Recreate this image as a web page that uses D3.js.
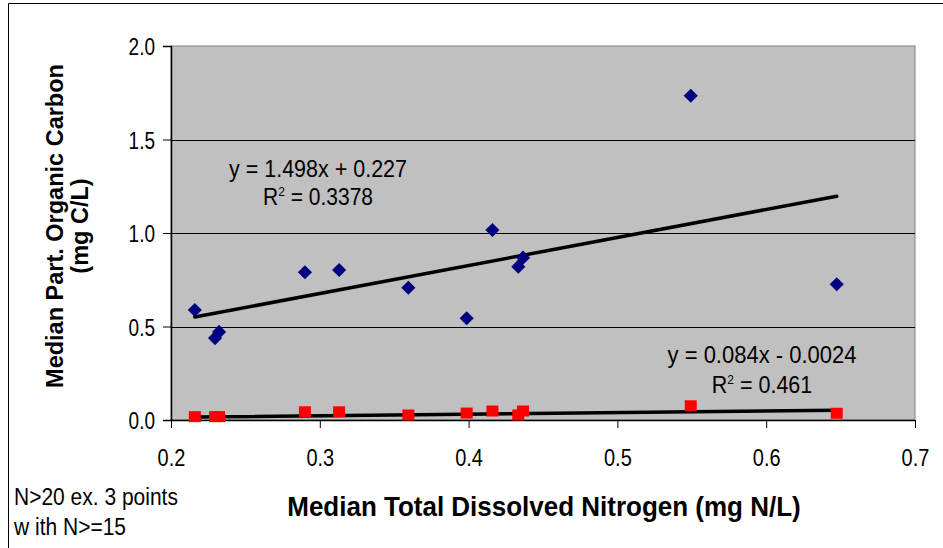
<!DOCTYPE html>
<html>
<head>
<meta charset="utf-8">
<script src="https://cdnjs.cloudflare.com/ajax/libs/d3/7.8.5/d3.min.js"></script>
<style>
  body { margin: 0; background: #fff; }
  svg { display: block; }
  text { font-family: "Liberation Sans", Arial, sans-serif; fill: #000; }
</style>
</head>
<body>
<div id="chart"></div>
<script>
"use strict";

// Median total dissolved nitrogen (mg N/L), one per site
var tdn = [0.216, 0.2296, 0.2323, 0.290, 0.313, 0.3595, 0.3987, 0.416, 0.4334, 0.4366, 0.5493, 0.6474];
// Median particulate organic carbon (mg C/L)
var poc = [0.588, 0.438, 0.471, 0.790, 0.802, 0.707, 0.544, 1.016, 0.820, 0.868, 1.734, 0.726];
// Second series (red squares)
var pon = [0.018, 0.018, 0.018, 0.044, 0.044, 0.027, 0.037, 0.048, 0.027, 0.048, 0.076, 0.036];

var xTicks = [0.2, 0.3, 0.4, 0.5, 0.6, 0.7];
var yTicks = [0.0, 0.5, 1.0, 1.5, 2.0];

// trendline coefficients shown on the chart
var fitPoc = {slope: 1.498, icept: 0.227, label: "y = 1.498x + 0.227", r2: "0.3378"};
var fitPon = {slope: 0.084, icept: -0.0024, label: "y = 0.084x - 0.0024", r2: "0.461"};

var width = 943, height = 548,
    margin = {top: 46, right: 28, bottom: 128, left: 171},
    w = width - margin.left - margin.right,
    h = height - margin.top - margin.bottom;

var svg = d3.select("#chart").append("svg")
    .attr("width", width)
    .attr("height", height);

// text in the original is a bit taller than it is wide, so stretch it
function label(parent, x, y, size, sy, anchor, str) {
    return parent.append("text")
        .attr("transform", "translate(" + x + "," + y + ") scale(1," + sy + ")")
        .attr("text-anchor", anchor)
        .attr("font-size", size)
        .text(str);
}

// outer chart border (clipped at right and bottom)
svg.append("path")
    .attr("d", "M8.5," + height + "V3.5H" + width)
    .attr("fill", "none")
    .attr("stroke", "#000")
    .attr("stroke-width", 1);

var x = d3.scaleLinear().domain([0.2, 0.7]).range([0, w]);
var y = d3.scaleLinear().domain([0, 2]).range([h, 0]);

var g = svg.append("g")
    .attr("transform", "translate(" + margin.left + "," + margin.top + ")");

// plot area
g.append("rect")
    .attr("width", w)
    .attr("height", h)
    .attr("fill", "#c0c0c0")
    .attr("stroke", "#808080")
    .attr("stroke-width", 1);

// gridlines
g.selectAll(".grid")
    .data(yTicks.filter(function (d) { return d > 0 && d < 2; }))
    .enter().append("line")
    .attr("class", "grid")
    .attr("x1", 0).attr("x2", w)
    .attr("y1", function (d) { return Math.round(y(d)) + 0.5; })
    .attr("y2", function (d) { return Math.round(y(d)) + 0.5; })
    .attr("stroke", "#000")
    .attr("stroke-width", 1);

// axes
var xAxis = d3.axisBottom(x).tickValues(xTicks).tickSize(8)
    .tickFormat(d3.format(".1f"));
var yAxis = d3.axisLeft(y).tickValues(yTicks).tickSize(8)
    .tickFormat(d3.format(".1f"));

var gx = g.append("g")
    .attr("transform", "translate(0," + h + ")")
    .call(xAxis);
var gy = g.append("g").call(yAxis);

[gx, gy].forEach(function (ax) {
    ax.select(".domain").attr("stroke", "#000").attr("stroke-width", 1.5);
    ax.selectAll(".tick line").attr("stroke", "#000");
    ax.selectAll(".tick text")
        .attr("font-family", "Liberation Sans, Arial, sans-serif")
        .attr("fill", "#000")
        .attr("x", null).attr("y", null).attr("dy", null);
});
gx.select(".domain").attr("d", "M0,0.5H" + w);
gx.selectAll(".tick text").attr("font-size", 20)
    .attr("transform", "translate(0,46) scale(1,1.22)");
gy.selectAll(".tick text").attr("font-size", 19)
    .attr("transform", "translate(-16,8.5) scale(1,1.25)");

// trendlines
function trend(fit, xs) {
    var lo = d3.min(xs), hi = d3.max(xs);
    return [[lo, fit.slope * lo + fit.icept], [hi, fit.slope * hi + fit.icept]];
}
var line = d3.line()
    .x(function (d) { return x(d[0]); })
    .y(function (d) { return y(d[1]); });

[fitPoc, fitPon].forEach(function (fit) {
    g.append("path")
        .attr("d", line(trend(fit, tdn)))
        .attr("fill", "none")
        .attr("stroke", "#000")
        .attr("stroke-width", 3.5)
        .attr("stroke-linecap", "round");
});

// points
var pocPts = tdn.map(function (d, i) { return [d, poc[i]]; });
var ponPts = tdn.map(function (d, i) { return [d, pon[i]]; });

g.selectAll(".sq")
    .data(ponPts)
    .enter().append("rect")
    .attr("class", "sq")
    .attr("x", function (d) { return x(d[0]) - 6; })
    .attr("y", function (d) { return y(d[1]) - 5.5; })
    .attr("width", 12)
    .attr("height", 11)
    .attr("fill", "#ff0000");

g.selectAll(".dia")
    .data(pocPts)
    .enter().append("path")
    .attr("class", "dia")
    .attr("d", d3.symbol(d3.symbolSquare, 100))
    .attr("transform", function (d) {
        return "translate(" + x(d[0]) + "," + y(d[1]) + ") rotate(45)";
    })
    .attr("fill", "#000080");

// trendline labels
function fitLabel(fit, cx, y1, y2, size) {
    label(svg, cx, y1, size, 1.12, "middle", fit.label);
    var t = label(svg, cx, y2, size - 0.5, 1.12, "middle", "");
    t.append("tspan").text("R");
    t.append("tspan").attr("font-size", 12).attr("dy", -8).text("2");
    t.append("tspan").attr("dy", 8).text(" = " + fit.r2);
}
fitLabel(fitPoc, 318, 177, 205, 21.5);
fitLabel(fitPon, 762, 363, 393, 22);

// axis titles
label(svg, 544, 516, 26, 1.05, "middle", "Median Total Dissolved Nitrogen (mg N/L)")
    .attr("font-weight", "bold");

var yt = svg.append("text")
    .attr("transform", "translate(63,226) rotate(-90)")
    .attr("text-anchor", "middle")
    .attr("font-size", 23.5)
    .attr("font-weight", "bold");
yt.append("tspan").attr("x", 0).attr("dy", 0).text("Median Part. Organic Carbon");
yt.append("tspan").attr("x", 0).attr("dy", 25).text("(mg C/L)");

// note
label(svg, 14, 505, 21, 1.1, "start", "N>20 ex. 3 points");
label(svg, 14, 535, 21, 1.1, "start", "w ith N>=15");
</script>
</body>
</html>
